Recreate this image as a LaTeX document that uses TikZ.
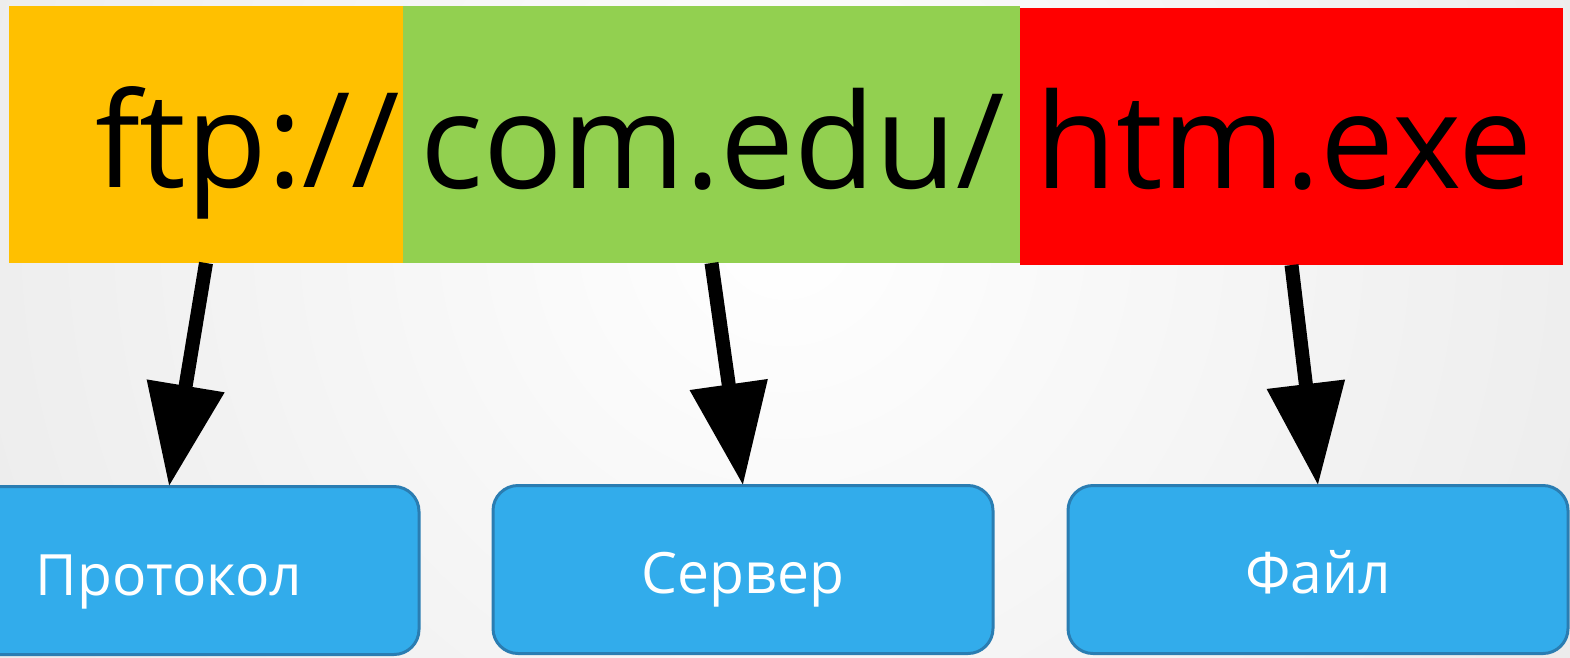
\documentclass[tikz,border=0pt]{standalone}
\usepackage{fontspec}
\setmainfont{Open Sans}
\usetikzlibrary{arrows.meta}
\definecolor{cOrange}{HTML}{FFC000}
\definecolor{cGreen}{HTML}{92D050}
\definecolor{cRed}{HTML}{FF0000}
\definecolor{cBlue}{HTML}{32ACEB}
\definecolor{cBlueEdge}{HTML}{2A7DB2}
\definecolor{cBgOut}{HTML}{D6D6D6}
\tikzset{
  topbox/.style={draw=none, inner sep=0pt, outer sep=0pt},
  bigtext/.style={inner sep=0pt, anchor=base west, font=\fontsize{132}{140}\selectfont},
  botbox/.style={draw=cBlueEdge, line width=3pt, fill=cBlue, rounded corners=25pt,
    minimum width=500pt, minimum height=168pt, inner sep=0pt, outer sep=0pt},
  bottext/.style={inner sep=0pt, anchor=base, text=white, font=\fontsize{57}{64}\selectfont},
  bigarrow/.style={line width=14pt, -{Triangle[length=102pt,width=75pt]}}
}
\begin{document}
\begin{tikzpicture}[x=1pt,y=-1pt]
\useasboundingbox (0,0) rectangle (1570,657);
\begin{scope}
  \clip (0,0) rectangle (1570,657);
  \shade[inner color=white, outer color=cBgOut] (785,230) circle (1900);
\end{scope}
% top boxes
\node[topbox, fill=cOrange, minimum width=394pt, minimum height=257pt, anchor=north west] (ftp) at (9,6) {};
\node[topbox, fill=cGreen, minimum width=617pt, minimum height=257pt, anchor=north west] (srv) at (403,6) {};
\node[topbox, fill=cRed, minimum width=543pt, minimum height=257pt, anchor=north west] (fil) at (1020,8) {};
\node[bigtext] (t1) at (95,187) {ftp://};
\node[bigtext] (t2) at (420,188) {com.edu/};
\node[bigtext] (t3) at (1035,188) {htm.exe};
% bottom boxes
\node[botbox] (proto) at (169,570.5) {};
\node[botbox] (server) at (743,569.5) {};
\node[botbox] (file) at (1318,569.5) {};
\node[bottext] (l1) at ([yshift=-25pt]proto.center) {Протокол};
\node[bottext] (l2) at ([yshift=-24pt]server.center) {Сервер};
\node[bottext] (l3) at ([yshift=-24pt]file.center) {Файл};
% arrows
\draw[bigarrow] (ftp.south) -- (proto.north);
\draw[bigarrow] (srv.south) -- (server.north);
\draw[bigarrow] (fil.south) -- (file.north);
\end{tikzpicture}
\end{document}
